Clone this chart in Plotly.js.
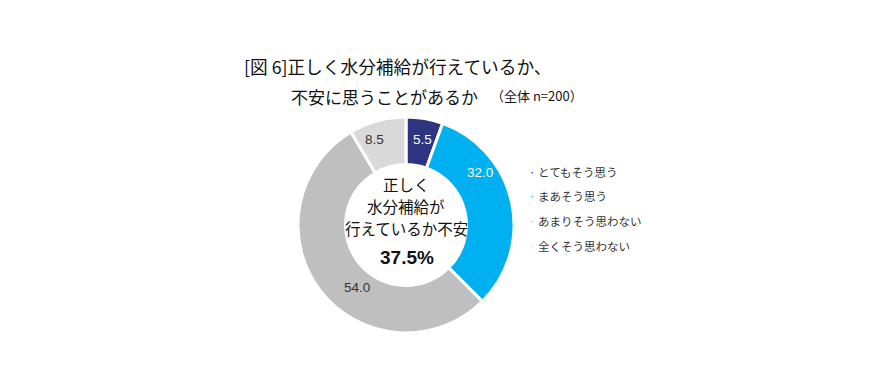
<!DOCTYPE html>
<html><head><meta charset="utf-8">
<script src="https://cdn.plot.ly/plotly-3.0.1.min.js"></script>
<style>html,body{margin:0;padding:0;background:#fff}#c{width:874px;height:388px}</style>
</head><body><div id="c"></div>
<script>
const categories = ["とてもそう思う", "まあそう思う", "あまりそう思わない", "全くそう思わない"];
const values = [5.5, 32.0, 54.0, 8.5];
const colors = ["#2E3580", "#00B0F0", "#BFBFBF", "#D9D9D9"];
const labelColors = ["#FFFFFF", "#FFFFFF", "#333333", "#333333"];
const centerLines = ["正しく", "水分補給が", "行えているか不安"];
const centerValue = "37.5%";
const titleLine1 = "[図 6]正しく水分補給が行えているか、";
const titleLine2 = "不安に思うことがあるか";
const titleNote = "（全体 n=200）";

const W = 874, H = 388;
const px = x => x / W, py = y => 1 - y / H;
const jp = '"Noto Sans CJK JP", "Noto Sans", sans-serif';

// value label positions (as seen in reference)
const labelPos = [[422,139],[480,172],[357,297],[374,139]];
const legendY = [172,196,221,246];

const annotations = [];
values.forEach((v,i)=>{
  annotations.push({x:px(labelPos[i][0]), y:py(labelPos[i][1]), xref:'paper', yref:'paper',
    text:v.toFixed(1), showarrow:false, font:{family:'"Liberation Sans", Arial, sans-serif', size:13.5, color:labelColors[i]}});
  annotations.push({x:px(527), y:py(legendY[i]), xref:'paper', yref:'paper', xanchor:'left',
    text:'<span style="color:'+colors[i]+'">·</span> '+categories[i], showarrow:false,
    font:{family:jp, size:11.5, color:'#333333'}});
});
const cy = [184,206,228];
centerLines.forEach((t,i)=>{
  annotations.push({x:px(406), y:py(cy[i]), xref:'paper', yref:'paper', text:t, showarrow:false,
    font:{family:jp, size:15.5, color:'#111111'}});
});
annotations.push({x:px(407), y:py(257), xref:'paper', yref:'paper', text:'<b>'+centerValue+'</b>', showarrow:false,
  font:{family:'"Liberation Sans", Arial, sans-serif', size:19, color:'#111111'}});
annotations.push({x:px(242), y:py(51), xref:'paper', yref:'paper', xanchor:'left', text:titleLine1, showarrow:false,
  font:{family:jp, size:17.7, color:'#111111'}});
annotations.push({x:px(289), y:py(82), xref:'paper', yref:'paper', xanchor:'left', text:titleLine2, showarrow:false,
  font:{family:jp, size:17, color:'#111111'}});
annotations.push({x:px(489), y:py(84), xref:'paper', yref:'paper', xanchor:'left', text:titleNote, showarrow:false,
  font:{family:jp, size:13, color:'#111111'}});

const trace = {
  type:'pie', labels:categories, values:values, hole:0.56, sort:false, direction:'clockwise', rotation:0,
  marker:{colors:colors, line:{color:'#FFFFFF', width:3}},
  textinfo:'none', hoverinfo:'none', showlegend:false,
  domain:{x:[px(298), px(514)], y:[py(333), py(117)]}
};
Plotly.newPlot('c', [trace], {
  width:W, height:H, margin:{l:0,r:0,t:0,b:0}, paper_bgcolor:'#fff', showlegend:false,
  annotations:annotations
}, {staticPlot:true});
</script></body></html>
